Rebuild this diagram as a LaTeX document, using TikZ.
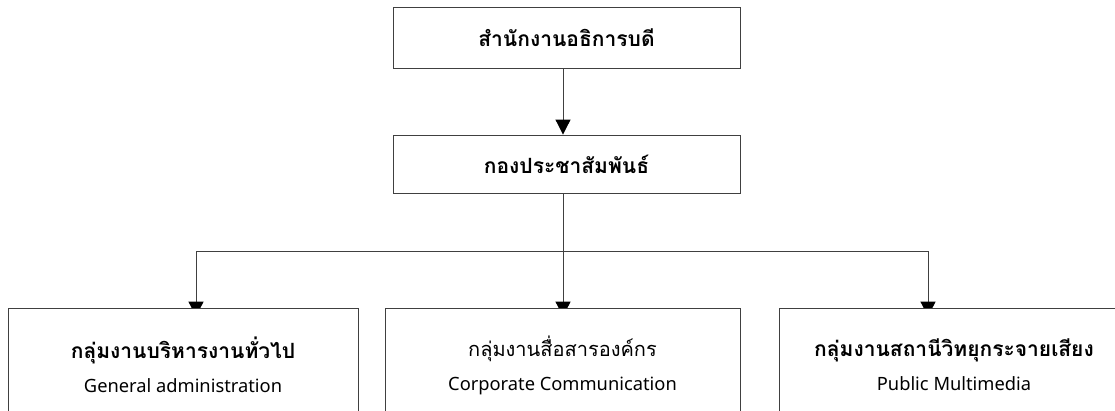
\documentclass[tikz,border=0pt]{standalone}
\usepackage{fontspec}
\newfontfamily\thaifont[Script=Thai]{Loma}
\newfontfamily\engfont{Noto Sans}
\usetikzlibrary{arrows.meta,backgrounds}
\tikzset{
  box/.style={draw=black!75, line width=0.9pt, fill=white, rectangle, inner sep=0pt},
  conn/.style={draw=black!75, line width=1pt},
  tip/.style={-{Triangle[length=15pt,width=15pt,fill=black,color=black]}},
  arr/.style={conn, tip, shorten >=-9pt},
  thtext/.style={font=\thaifont\bfseries\fontsize{21}{24}\selectfont},
  lowtext/.style={align=center, font=\fontsize{18.3}{34}\selectfont}
}
\newcommand{\thb}[1]{{\thaifont\bfseries\fontsize{21}{34}\selectfont #1}}
\newcommand{\thr}[1]{{\thaifont\fontsize{20}{34}\selectfont #1}}
\begin{document}
\begin{tikzpicture}[x=1pt,y=-1pt]
\useasboundingbox (0,0) rectangle (1115,410);
\node[box, thtext, minimum width=347pt, minimum height=61pt] (top) at (566.5,37.5) {สำนักงานอธิการบดี};
\node[box, thtext, minimum width=347pt, minimum height=58pt] (pr) at (566.5,164) {กองประชาสัมพันธ์};
\node[box, lowtext, minimum width=350pt, minimum height=114pt] (g1) at (183,365)
  {\thb{กลุ่มงานบริหารงานทั่วไป}\\{\engfont General administration}};
\node[box, lowtext, minimum width=355pt, minimum height=114pt] (g2) at (562.5,365)
  {\thr{กลุ่มงานสื่อสารองค์กร}\\{\engfont Corporate Communication}};
\node[box, lowtext, minimum width=350pt, minimum height=114pt] (g3) at (954,365)
  {\thb{กลุ่มงานสถานีวิทยุกระจายเสียง}\\{\engfont Public Multimedia}};
\coordinate (j1) at (196,251);
\coordinate (j2) at (563,251);
\coordinate (j3) at (928,251);
\begin{pgfonlayer}{background}
\draw[conn, tip] (top.south -| j2) -- (pr.north -| j2);
\draw[conn] (pr.south -| j2) -- (j2);
\draw[conn] (j1) -- (j3);
\draw[arr] (j1) -- (g1.north -| j1);
\draw[arr] (j2) -- (g2.north -| j2);
\draw[arr] (j3) -- (g3.north -| j3);
\end{pgfonlayer}
\end{tikzpicture}
\end{document}
